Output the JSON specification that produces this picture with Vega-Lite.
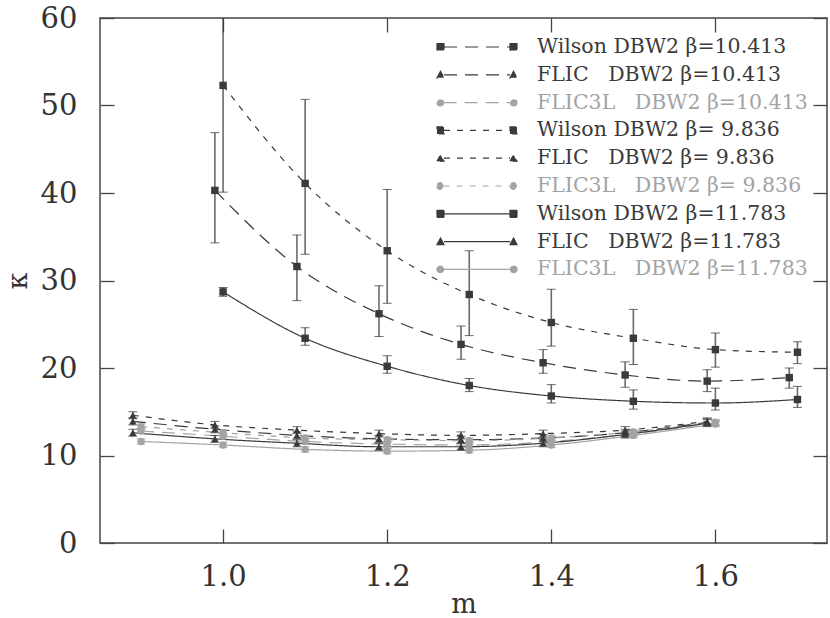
{
  "$schema": "https://vega.github.io/schema/vega-lite/v6.json",
  "autosize": "none",
  "padding": {"left": 100, "top": 18, "right": 3, "bottom": 75},
  "width": 727,
  "height": 525,
  "background": "white",
  "config": {
    "view": {"stroke": "#444", "strokeWidth": 1.5},
    "font": "DejaVu Serif",
    "axis": {
      "domain": false,
      "grid": false,
      "tickColor": "#444",
      "tickWidth": 1.3,
      "labelFont": "DejaVu Serif",
      "labelFontSize": 29,
      "labelColor": "#333",
      "titleFont": "DejaVu Serif",
      "titleFontSize": 27,
      "titleFontWeight": "normal",
      "titleColor": "#333"
    }
  },
  "data": {
    "values": [
      {"series": "Wilson\u00a0DBW2\u00a0β=10.413", "kind": "Wilson", "beta": "10.413", "m": 0.99, "k": 40.3, "lo": 34.3, "hi": 46.9},
      {"series": "Wilson\u00a0DBW2\u00a0β=10.413", "kind": "Wilson", "beta": "10.413", "m": 1.09, "k": 31.6, "lo": 27.7, "hi": 35.2},
      {"series": "Wilson\u00a0DBW2\u00a0β=10.413", "kind": "Wilson", "beta": "10.413", "m": 1.19, "k": 26.2, "lo": 23.6, "hi": 29.4},
      {"series": "Wilson\u00a0DBW2\u00a0β=10.413", "kind": "Wilson", "beta": "10.413", "m": 1.29, "k": 22.7, "lo": 21.0, "hi": 24.8},
      {"series": "Wilson\u00a0DBW2\u00a0β=10.413", "kind": "Wilson", "beta": "10.413", "m": 1.39, "k": 20.6, "lo": 19.4, "hi": 22.1},
      {"series": "Wilson\u00a0DBW2\u00a0β=10.413", "kind": "Wilson", "beta": "10.413", "m": 1.49, "k": 19.2, "lo": 17.8, "hi": 20.7},
      {"series": "Wilson\u00a0DBW2\u00a0β=10.413", "kind": "Wilson", "beta": "10.413", "m": 1.59, "k": 18.5, "lo": 17.3, "hi": 19.8},
      {"series": "Wilson\u00a0DBW2\u00a0β=10.413", "kind": "Wilson", "beta": "10.413", "m": 1.69, "k": 18.9, "lo": 17.7, "hi": 20.0},

      {"series": "FLIC\u00a0\u00a0\u00a0DBW2\u00a0β=10.413", "kind": "FLIC", "beta": "10.413", "m": 0.89, "k": 13.9, "lo": 13.5, "hi": 14.3},
      {"series": "FLIC\u00a0\u00a0\u00a0DBW2\u00a0β=10.413", "kind": "FLIC", "beta": "10.413", "m": 0.99, "k": 13.0, "lo": 12.6, "hi": 13.4},
      {"series": "FLIC\u00a0\u00a0\u00a0DBW2\u00a0β=10.413", "kind": "FLIC", "beta": "10.413", "m": 1.09, "k": 12.3, "lo": 11.9, "hi": 12.7},
      {"series": "FLIC\u00a0\u00a0\u00a0DBW2\u00a0β=10.413", "kind": "FLIC", "beta": "10.413", "m": 1.19, "k": 11.9, "lo": 11.5, "hi": 12.3},
      {"series": "FLIC\u00a0\u00a0\u00a0DBW2\u00a0β=10.413", "kind": "FLIC", "beta": "10.413", "m": 1.29, "k": 11.8, "lo": 11.4, "hi": 12.2},
      {"series": "FLIC\u00a0\u00a0\u00a0DBW2\u00a0β=10.413", "kind": "FLIC", "beta": "10.413", "m": 1.39, "k": 12.0, "lo": 11.6, "hi": 12.4},
      {"series": "FLIC\u00a0\u00a0\u00a0DBW2\u00a0β=10.413", "kind": "FLIC", "beta": "10.413", "m": 1.49, "k": 12.6, "lo": 12.2, "hi": 13.0},
      {"series": "FLIC\u00a0\u00a0\u00a0DBW2\u00a0β=10.413", "kind": "FLIC", "beta": "10.413", "m": 1.59, "k": 13.8, "lo": 13.4, "hi": 14.2},

      {"series": "FLIC3L\u00a0\u00a0\u00a0DBW2\u00a0β=10.413", "kind": "FLIC3L", "beta": "10.413", "m": 0.90, "k": 12.8, "lo": 12.5, "hi": 13.1},
      {"series": "FLIC3L\u00a0\u00a0\u00a0DBW2\u00a0β=10.413", "kind": "FLIC3L", "beta": "10.413", "m": 1.00, "k": 12.2, "lo": 11.9, "hi": 12.5},
      {"series": "FLIC3L\u00a0\u00a0\u00a0DBW2\u00a0β=10.413", "kind": "FLIC3L", "beta": "10.413", "m": 1.10, "k": 11.6, "lo": 11.3, "hi": 11.9},
      {"series": "FLIC3L\u00a0\u00a0\u00a0DBW2\u00a0β=10.413", "kind": "FLIC3L", "beta": "10.413", "m": 1.20, "k": 11.3, "lo": 11.0, "hi": 11.6},
      {"series": "FLIC3L\u00a0\u00a0\u00a0DBW2\u00a0β=10.413", "kind": "FLIC3L", "beta": "10.413", "m": 1.30, "k": 11.2, "lo": 10.9, "hi": 11.5},
      {"series": "FLIC3L\u00a0\u00a0\u00a0DBW2\u00a0β=10.413", "kind": "FLIC3L", "beta": "10.413", "m": 1.40, "k": 11.6, "lo": 11.3, "hi": 11.9},
      {"series": "FLIC3L\u00a0\u00a0\u00a0DBW2\u00a0β=10.413", "kind": "FLIC3L", "beta": "10.413", "m": 1.50, "k": 12.5, "lo": 12.2, "hi": 12.8},
      {"series": "FLIC3L\u00a0\u00a0\u00a0DBW2\u00a0β=10.413", "kind": "FLIC3L", "beta": "10.413", "m": 1.60, "k": 13.7, "lo": 13.4, "hi": 14.0},

      {"series": "Wilson\u00a0DBW2\u00a0β=\u00a09.836", "kind": "Wilson", "beta": "9.836", "m": 1.0, "k": 52.3, "lo": 40.1, "hi": 64.5},
      {"series": "Wilson\u00a0DBW2\u00a0β=\u00a09.836", "kind": "Wilson", "beta": "9.836", "m": 1.1, "k": 41.1, "lo": 33.0, "hi": 50.7},
      {"series": "Wilson\u00a0DBW2\u00a0β=\u00a09.836", "kind": "Wilson", "beta": "9.836", "m": 1.2, "k": 33.4, "lo": 27.4, "hi": 40.4},
      {"series": "Wilson\u00a0DBW2\u00a0β=\u00a09.836", "kind": "Wilson", "beta": "9.836", "m": 1.3, "k": 28.4, "lo": 23.7, "hi": 33.4},
      {"series": "Wilson\u00a0DBW2\u00a0β=\u00a09.836", "kind": "Wilson", "beta": "9.836", "m": 1.4, "k": 25.2, "lo": 22.5, "hi": 29.0},
      {"series": "Wilson\u00a0DBW2\u00a0β=\u00a09.836", "kind": "Wilson", "beta": "9.836", "m": 1.5, "k": 23.4, "lo": 20.4, "hi": 26.7},
      {"series": "Wilson\u00a0DBW2\u00a0β=\u00a09.836", "kind": "Wilson", "beta": "9.836", "m": 1.6, "k": 22.1, "lo": 20.1, "hi": 24.0},
      {"series": "Wilson\u00a0DBW2\u00a0β=\u00a09.836", "kind": "Wilson", "beta": "9.836", "m": 1.7, "k": 21.8, "lo": 20.5, "hi": 23.0},

      {"series": "FLIC\u00a0\u00a0\u00a0DBW2\u00a0β=\u00a09.836", "kind": "FLIC", "beta": "9.836", "m": 0.89, "k": 14.6, "lo": 14.2, "hi": 15.0},
      {"series": "FLIC\u00a0\u00a0\u00a0DBW2\u00a0β=\u00a09.836", "kind": "FLIC", "beta": "9.836", "m": 0.99, "k": 13.5, "lo": 13.1, "hi": 13.9},
      {"series": "FLIC\u00a0\u00a0\u00a0DBW2\u00a0β=\u00a09.836", "kind": "FLIC", "beta": "9.836", "m": 1.09, "k": 12.9, "lo": 12.5, "hi": 13.3},
      {"series": "FLIC\u00a0\u00a0\u00a0DBW2\u00a0β=\u00a09.836", "kind": "FLIC", "beta": "9.836", "m": 1.19, "k": 12.5, "lo": 12.1, "hi": 12.9},
      {"series": "FLIC\u00a0\u00a0\u00a0DBW2\u00a0β=\u00a09.836", "kind": "FLIC", "beta": "9.836", "m": 1.29, "k": 12.3, "lo": 11.9, "hi": 12.7},
      {"series": "FLIC\u00a0\u00a0\u00a0DBW2\u00a0β=\u00a09.836", "kind": "FLIC", "beta": "9.836", "m": 1.39, "k": 12.5, "lo": 12.1, "hi": 12.9},
      {"series": "FLIC\u00a0\u00a0\u00a0DBW2\u00a0β=\u00a09.836", "kind": "FLIC", "beta": "9.836", "m": 1.49, "k": 12.9, "lo": 12.5, "hi": 13.3},
      {"series": "FLIC\u00a0\u00a0\u00a0DBW2\u00a0β=\u00a09.836", "kind": "FLIC", "beta": "9.836", "m": 1.59, "k": 13.9, "lo": 13.5, "hi": 14.3},

      {"series": "FLIC3L\u00a0\u00a0\u00a0DBW2\u00a0β=\u00a09.836", "kind": "FLIC3L", "beta": "9.836", "m": 0.90, "k": 13.3, "lo": 13.0, "hi": 13.6},
      {"series": "FLIC3L\u00a0\u00a0\u00a0DBW2\u00a0β=\u00a09.836", "kind": "FLIC3L", "beta": "9.836", "m": 1.00, "k": 12.6, "lo": 12.3, "hi": 12.9},
      {"series": "FLIC3L\u00a0\u00a0\u00a0DBW2\u00a0β=\u00a09.836", "kind": "FLIC3L", "beta": "9.836", "m": 1.10, "k": 12.0, "lo": 11.7, "hi": 12.3},
      {"series": "FLIC3L\u00a0\u00a0\u00a0DBW2\u00a0β=\u00a09.836", "kind": "FLIC3L", "beta": "9.836", "m": 1.20, "k": 11.8, "lo": 11.5, "hi": 12.1},
      {"series": "FLIC3L\u00a0\u00a0\u00a0DBW2\u00a0β=\u00a09.836", "kind": "FLIC3L", "beta": "9.836", "m": 1.30, "k": 11.7, "lo": 11.4, "hi": 12.0},
      {"series": "FLIC3L\u00a0\u00a0\u00a0DBW2\u00a0β=\u00a09.836", "kind": "FLIC3L", "beta": "9.836", "m": 1.40, "k": 12.0, "lo": 11.7, "hi": 12.3},
      {"series": "FLIC3L\u00a0\u00a0\u00a0DBW2\u00a0β=\u00a09.836", "kind": "FLIC3L", "beta": "9.836", "m": 1.50, "k": 12.7, "lo": 12.4, "hi": 13.0},
      {"series": "FLIC3L\u00a0\u00a0\u00a0DBW2\u00a0β=\u00a09.836", "kind": "FLIC3L", "beta": "9.836", "m": 1.60, "k": 13.8, "lo": 13.5, "hi": 14.1},

      {"series": "Wilson\u00a0DBW2\u00a0β=11.783", "kind": "Wilson", "beta": "11.783", "m": 1.0, "k": 28.7, "lo": 28.2, "hi": 29.2},
      {"series": "Wilson\u00a0DBW2\u00a0β=11.783", "kind": "Wilson", "beta": "11.783", "m": 1.1, "k": 23.4, "lo": 22.6, "hi": 24.6},
      {"series": "Wilson\u00a0DBW2\u00a0β=11.783", "kind": "Wilson", "beta": "11.783", "m": 1.2, "k": 20.2, "lo": 19.4, "hi": 21.4},
      {"series": "Wilson\u00a0DBW2\u00a0β=11.783", "kind": "Wilson", "beta": "11.783", "m": 1.3, "k": 18.0, "lo": 17.3, "hi": 18.8},
      {"series": "Wilson\u00a0DBW2\u00a0β=11.783", "kind": "Wilson", "beta": "11.783", "m": 1.4, "k": 16.8, "lo": 16.0, "hi": 18.1},
      {"series": "Wilson\u00a0DBW2\u00a0β=11.783", "kind": "Wilson", "beta": "11.783", "m": 1.5, "k": 16.2, "lo": 15.3, "hi": 17.5},
      {"series": "Wilson\u00a0DBW2\u00a0β=11.783", "kind": "Wilson", "beta": "11.783", "m": 1.6, "k": 16.0, "lo": 15.2, "hi": 17.7},
      {"series": "Wilson\u00a0DBW2\u00a0β=11.783", "kind": "Wilson", "beta": "11.783", "m": 1.7, "k": 16.4, "lo": 15.5, "hi": 17.9},

      {"series": "FLIC\u00a0\u00a0\u00a0DBW2\u00a0β=11.783", "kind": "FLIC", "beta": "11.783", "m": 0.89, "k": 12.6, "lo": 12.2, "hi": 13.0},
      {"series": "FLIC\u00a0\u00a0\u00a0DBW2\u00a0β=11.783", "kind": "FLIC", "beta": "11.783", "m": 0.99, "k": 11.9, "lo": 11.5, "hi": 12.3},
      {"series": "FLIC\u00a0\u00a0\u00a0DBW2\u00a0β=11.783", "kind": "FLIC", "beta": "11.783", "m": 1.09, "k": 11.4, "lo": 11.0, "hi": 11.8},
      {"series": "FLIC\u00a0\u00a0\u00a0DBW2\u00a0β=11.783", "kind": "FLIC", "beta": "11.783", "m": 1.19, "k": 11.0, "lo": 10.6, "hi": 11.4},
      {"series": "FLIC\u00a0\u00a0\u00a0DBW2\u00a0β=11.783", "kind": "FLIC", "beta": "11.783", "m": 1.29, "k": 11.0, "lo": 10.6, "hi": 11.4},
      {"series": "FLIC\u00a0\u00a0\u00a0DBW2\u00a0β=11.783", "kind": "FLIC", "beta": "11.783", "m": 1.39, "k": 11.4, "lo": 11.0, "hi": 11.8},
      {"series": "FLIC\u00a0\u00a0\u00a0DBW2\u00a0β=11.783", "kind": "FLIC", "beta": "11.783", "m": 1.49, "k": 12.4, "lo": 12.0, "hi": 12.8},
      {"series": "FLIC\u00a0\u00a0\u00a0DBW2\u00a0β=11.783", "kind": "FLIC", "beta": "11.783", "m": 1.59, "k": 13.7, "lo": 13.3, "hi": 14.1},

      {"series": "FLIC3L\u00a0\u00a0\u00a0DBW2\u00a0β=11.783", "kind": "FLIC3L", "beta": "11.783", "m": 0.90, "k": 11.6, "lo": 11.3, "hi": 11.9},
      {"series": "FLIC3L\u00a0\u00a0\u00a0DBW2\u00a0β=11.783", "kind": "FLIC3L", "beta": "11.783", "m": 1.00, "k": 11.2, "lo": 10.9, "hi": 11.5},
      {"series": "FLIC3L\u00a0\u00a0\u00a0DBW2\u00a0β=11.783", "kind": "FLIC3L", "beta": "11.783", "m": 1.10, "k": 10.7, "lo": 10.4, "hi": 11.0},
      {"series": "FLIC3L\u00a0\u00a0\u00a0DBW2\u00a0β=11.783", "kind": "FLIC3L", "beta": "11.783", "m": 1.20, "k": 10.5, "lo": 10.2, "hi": 10.8},
      {"series": "FLIC3L\u00a0\u00a0\u00a0DBW2\u00a0β=11.783", "kind": "FLIC3L", "beta": "11.783", "m": 1.30, "k": 10.6, "lo": 10.3, "hi": 10.9},
      {"series": "FLIC3L\u00a0\u00a0\u00a0DBW2\u00a0β=11.783", "kind": "FLIC3L", "beta": "11.783", "m": 1.40, "k": 11.2, "lo": 10.9, "hi": 11.5},
      {"series": "FLIC3L\u00a0\u00a0\u00a0DBW2\u00a0β=11.783", "kind": "FLIC3L", "beta": "11.783", "m": 1.50, "k": 12.3, "lo": 12.0, "hi": 12.6},
      {"series": "FLIC3L\u00a0\u00a0\u00a0DBW2\u00a0β=11.783", "kind": "FLIC3L", "beta": "11.783", "m": 1.60, "k": 13.6, "lo": 13.3, "hi": 13.9}
    ]
  },
  "resolve": {"axis": {"x": "independent", "y": "independent"}},
  "layer": [
    {
      "mark": {"type": "line", "interpolate": "monotone", "strokeWidth": 1.2, "clip": true},
      "encoding": {
        "x": {
          "field": "m", "type": "quantitative",
          "scale": {"domain": [0.85, 1.736], "nice": false, "zero": false},
          "axis": {"orient": "bottom", "title": "m", "values": [1.0, 1.2, 1.4, 1.6], "format": ".1f",
                   "tickSize": -14, "labelPadding": 33, "titlePadding": 0}
        },
        "y": {
          "field": "k", "type": "quantitative",
          "scale": {"domain": [0, 60], "nice": false},
          "axis": {"orient": "left", "title": "κ", "values": [0, 10, 20, 30, 40, 50, 60],
                   "tickSize": -14, "labelPadding": 37, "titlePadding": 8}
        },
        "color": {
          "field": "kind", "type": "nominal",
          "scale": {"domain": ["Wilson", "FLIC", "FLIC3L"], "range": ["#3a3a3a", "#3a3a3a", "#a3a3a3"]},
          "legend": null
        },
        "strokeDash": {
          "field": "beta", "type": "nominal",
          "scale": {"domain": ["10.413", "9.836", "11.783"], "range": [[13, 8], [6, 7], [1, 0]]},
          "legend": null
        },
        "opacity": {
          "field": "series", "type": "nominal",
          "scale": {
            "domain": [
              "Wilson\u00a0DBW2\u00a0β=10.413", "FLIC\u00a0\u00a0\u00a0DBW2\u00a0β=10.413", "FLIC3L\u00a0\u00a0\u00a0DBW2\u00a0β=10.413",
              "Wilson\u00a0DBW2\u00a0β=\u00a09.836", "FLIC\u00a0\u00a0\u00a0DBW2\u00a0β=\u00a09.836", "FLIC3L\u00a0\u00a0\u00a0DBW2\u00a0β=\u00a09.836",
              "Wilson\u00a0DBW2\u00a0β=11.783", "FLIC\u00a0\u00a0\u00a0DBW2\u00a0β=11.783", "FLIC3L\u00a0\u00a0\u00a0DBW2\u00a0β=11.783"
            ],
            "range": [1, 1, 1, 1, 1, 1, 1, 1, 1]
          },
          "legend": {
            "orient": "none",
            "legendX": 366,
            "legendY": 18,
            "title": null,
            "padding": 0,
            "symbolSize": 400,
            "labelOffset": 49,
            "labelFont": "DejaVu Serif",
            "labelFontSize": 20.5,
            "labelLimit": 400,
            "rowPadding": 5.8,
            "encode": {
              "symbols": {
                "update": {
                  "shape": {"signal": "datum.index % 3 === 0 ? 'M-4,-0.35h0.7v0.7h-0.7zM-3.3,0H3.3M3.3,-0.35h0.7v0.7h-0.7z' : datum.index % 3 === 1 ? 'M-4,0.3L-3.65,-0.35L-3.3,0.3zM-3.3,0H3.3M3.3,0.3L3.65,-0.35L4,0.3z' : 'M-4,0a0.33,0.33 0 1,0 0.66,0a0.33,0.33 0 1,0 -0.66,0zM-3.34,0H3.34M3.34,0a0.33,0.33 0 1,0 0.66,0a0.33,0.33 0 1,0 -0.66,0z'"},
                  "fill": {"signal": "datum.index % 3 === 2 ? '#a3a3a3' : '#3a3a3a'"},
                  "stroke": {"signal": "datum.index % 3 === 2 ? '#a3a3a3' : '#3a3a3a'"},
                  "strokeDash": {"signal": "datum.index < 3 ? [13, 8] : datum.index < 6 ? [6, 7] : [1, 0]"},
                  "strokeWidth": {"value": 1.2}
                }
              },
              "labels": {
                "update": {
                  "fill": {"signal": "datum.index % 3 === 2 ? '#a3a3a3' : '#3a3a3a'"}
                }
              }
            }
          }
        }
      }
    },
    {
      "mark": {"type": "rule", "strokeWidth": 1.6, "opacity": 0.75, "clip": true},
      "encoding": {
        "x": {"field": "m", "type": "quantitative", "axis": null},
        "y": {"field": "lo", "type": "quantitative", "axis": null},
        "y2": {"field": "hi"},
        "color": {"field": "kind", "type": "nominal", "legend": null}
      }
    },
    {
      "mark": {"type": "tick", "orient": "horizontal", "size": 9, "thickness": 1, "opacity": 0.75, "clip": true},
      "encoding": {
        "x": {"field": "m", "type": "quantitative", "axis": null},
        "y": {"field": "lo", "type": "quantitative", "axis": null},
        "color": {"field": "kind", "type": "nominal", "legend": null}
      }
    },
    {
      "mark": {"type": "tick", "orient": "horizontal", "size": 9, "thickness": 1, "opacity": 0.75, "clip": true},
      "encoding": {
        "x": {"field": "m", "type": "quantitative", "axis": null},
        "y": {"field": "hi", "type": "quantitative", "axis": null},
        "color": {"field": "kind", "type": "nominal", "legend": null}
      }
    },
    {
      "mark": {"type": "point", "filled": true, "size": 55, "opacity": 1},
      "encoding": {
        "x": {
          "field": "m", "type": "quantitative",
          "axis": {"orient": "top", "title": null, "labels": false, "values": [1.0, 1.2, 1.4, 1.6], "tickSize": -14}
        },
        "y": {
          "field": "k", "type": "quantitative",
          "axis": {"orient": "right", "title": null, "labels": false, "values": [0, 10, 20, 30, 40, 50, 60], "tickSize": -14}
        },
        "color": {"field": "kind", "type": "nominal", "legend": null},
        "shape": {
          "field": "kind", "type": "nominal",
          "scale": {"domain": ["Wilson", "FLIC", "FLIC3L"], "range": ["square", "triangle-up", "circle"]},
          "legend": null
        }
      }
    }
  ]
}
